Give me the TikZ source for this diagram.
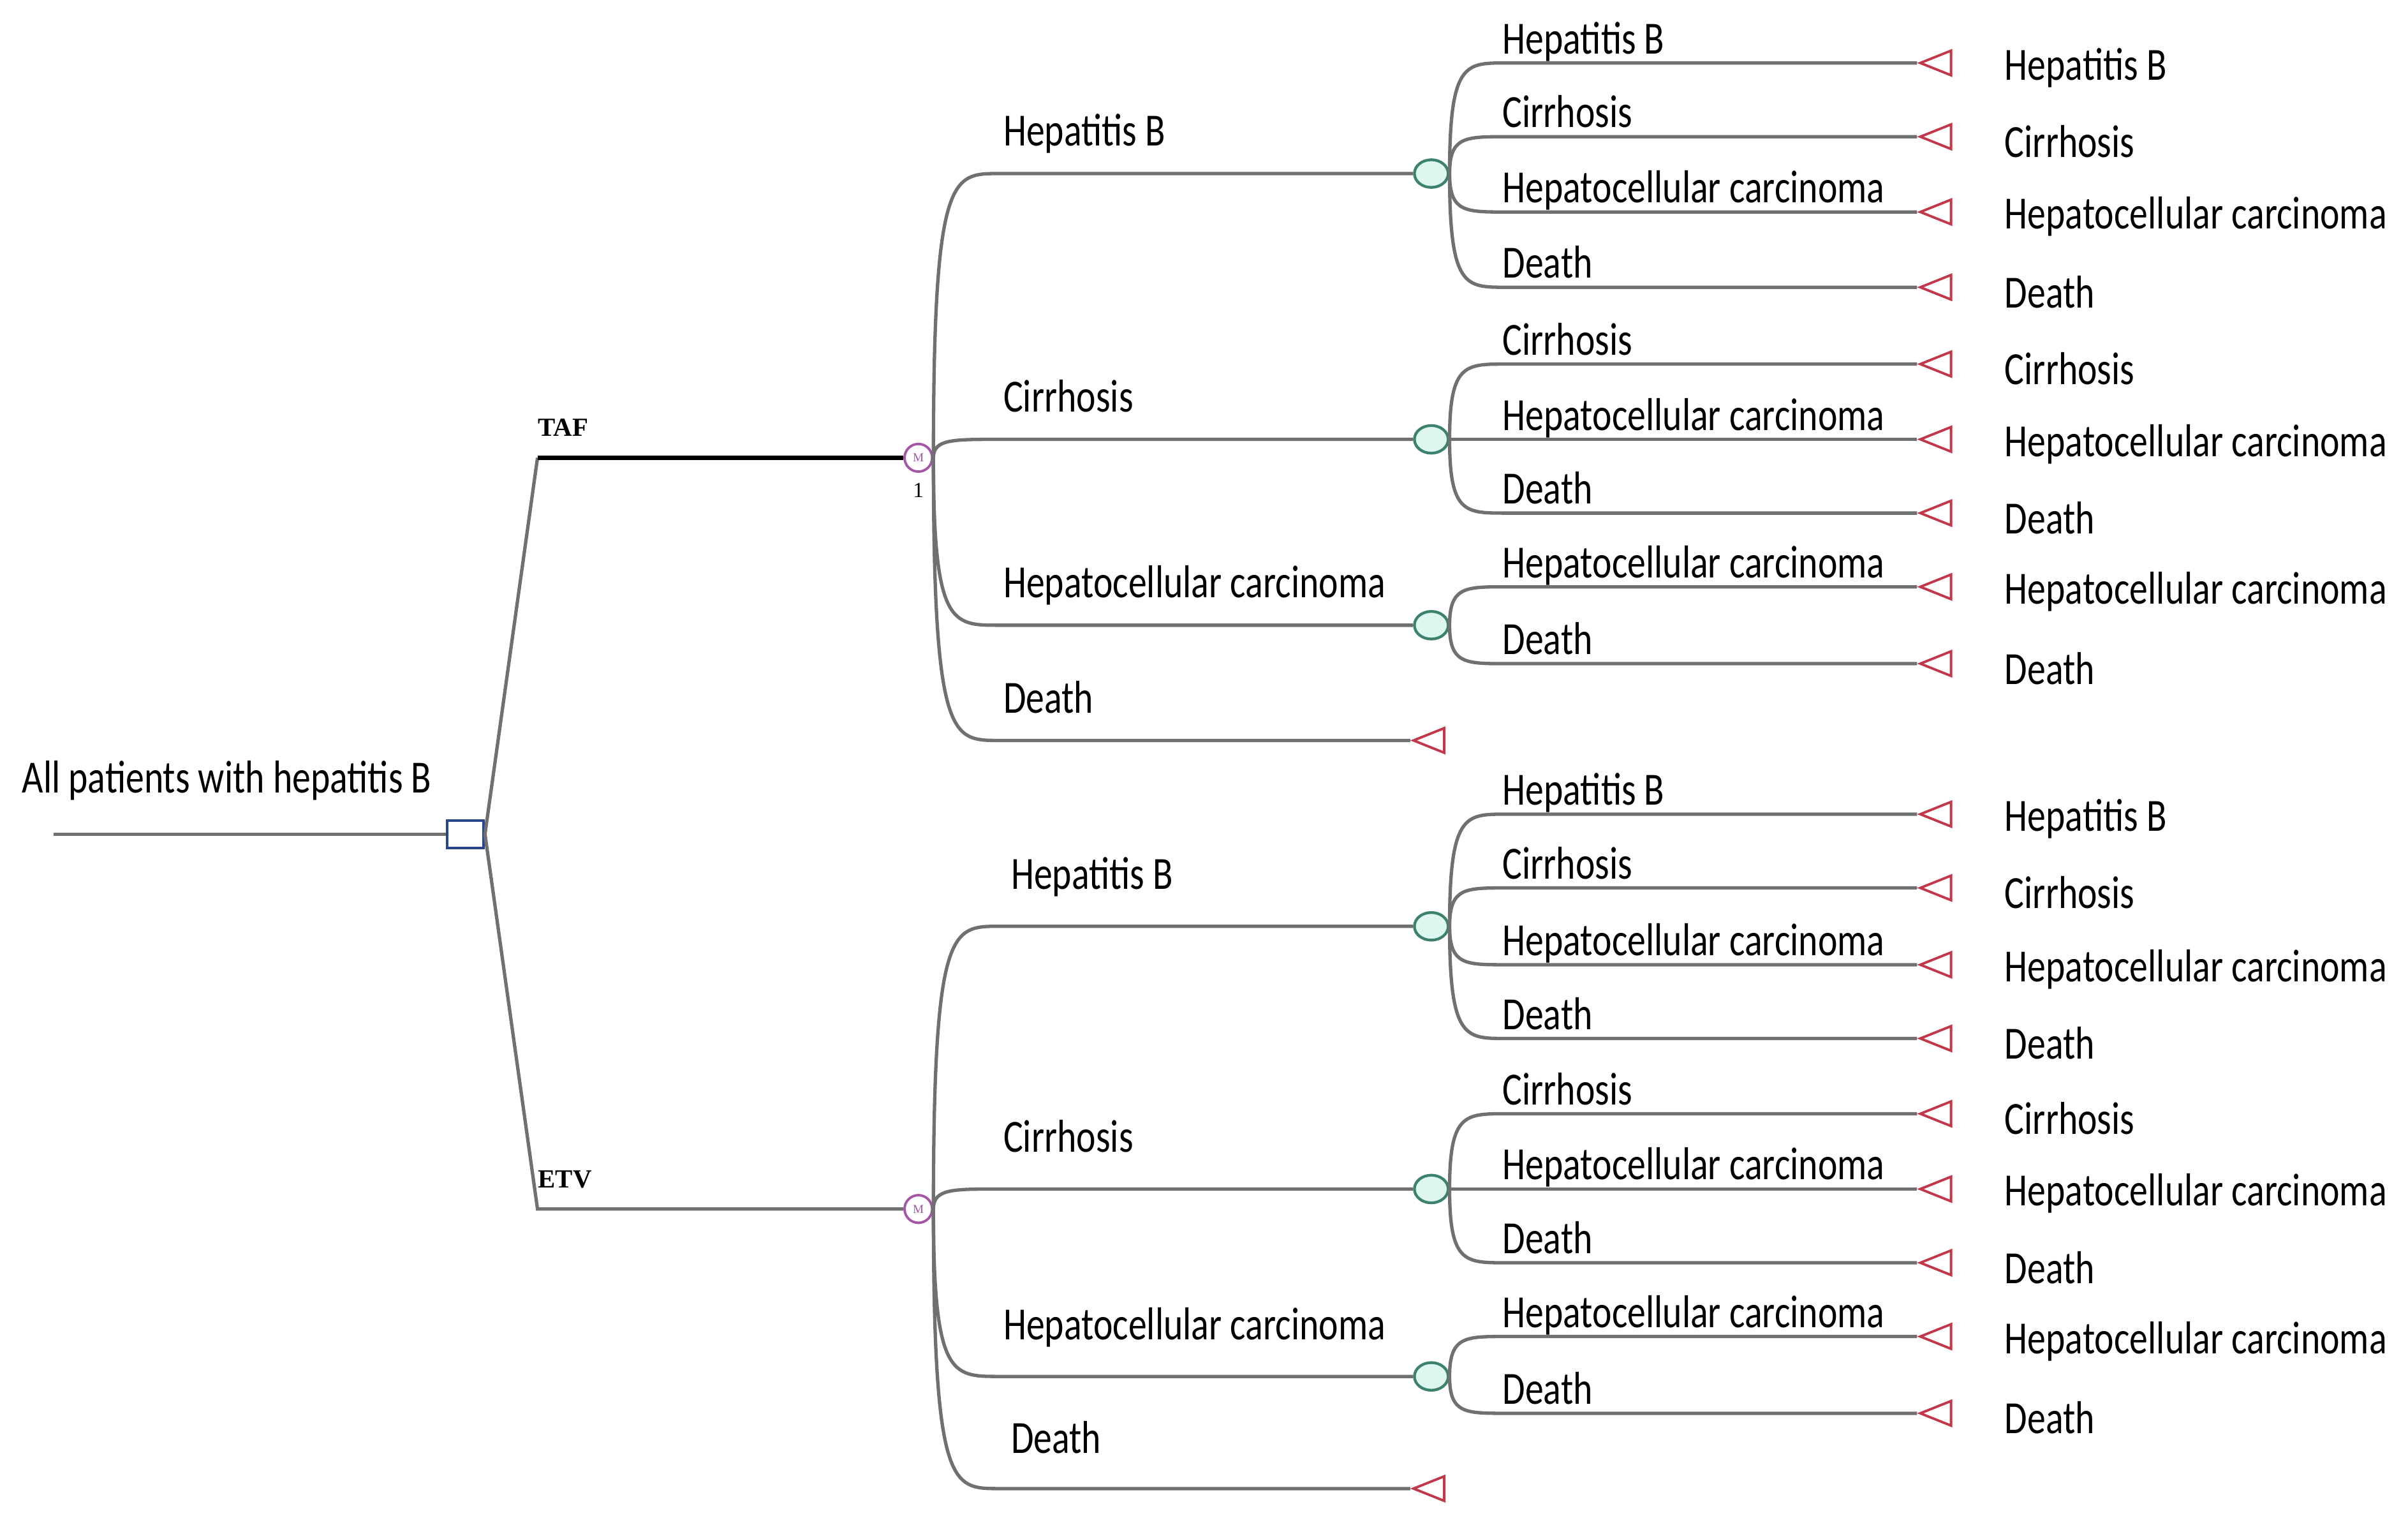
\documentclass[tikz,border=0pt]{standalone}
\usepackage{fontspec}
\setmainfont{Carlito}
\newfontfamily\armfont{Liberation Serif}
\usetikzlibrary{shapes.geometric}
\definecolor{linegray}{RGB}{112,112,112}
\definecolor{decblue}{RGB}{40,70,140}
\definecolor{markovpurple}{RGB}{165,85,165}
\definecolor{chanceteal}{RGB}{60,130,110}
\definecolor{chancefill}{RGB}{222,246,240}
\definecolor{termred}{RGB}{195,55,75}
\newcommand{\sq}[1]{\scalebox{0.8}[1]{#1}}

\begin{document}
\begin{tikzpicture}[
    x=0.5pt, y=-0.5pt,
    every node/.style={font=\fontsize{15}{15}\selectfont},
    branch/.style={draw=linegray, line width=1.1pt},
    decision/.style={rectangle, draw=decblue, fill=white, minimum width=12pt, minimum height=9pt, inner sep=0pt, line width=0.8pt},
    markov/.style={circle, draw=markovpurple, fill=white, minimum size=9pt, inner sep=0pt, line width=0.8pt, text=markovpurple, font=\armfont\fontsize{4}{4}\selectfont},
    chance/.style={ellipse, draw=chanceteal, fill=chancefill, minimum width=11pt, minimum height=9pt, inner sep=0pt, line width=0.9pt},
    terminal/.style={isosceles triangle, shape border rotate=180, isosceles triangle stretches, draw=termred, fill=white, minimum height=10pt, minimum width=8pt, inner sep=0pt, line width=0.8pt},
    state/.style={anchor=base west, inner sep=0pt},
    outcome/.style={anchor=west, inner sep=0pt},
    arm/.style={anchor=base west, inner sep=0pt, font=\armfont\bfseries\fontsize{8.5}{8.5}\selectfont}
]
\useasboundingbox (0,0) rectangle (1568,988);

% decision node and arms
\coordinate (start) at (35,543);
\node[decision] (dec) at (303,543) {};
\node[anchor=base west, inner sep=0pt] at (14,516) {\sq{All patients with hepatitis B}};
\draw[branch] (start) -- (dec.west);
\coordinate (tafc) at (350,298);
\coordinate (etvc) at (350,787);
\node[markov] (mtaf) at (598,298) {M};
\node[markov] (metv) at (598,787) {M};
\draw[branch] (dec.east) -- (tafc);
\draw[black, line width=1.5pt] (tafc) -- (mtaf.west);
\draw[branch] (dec.east) -- (etvc) -- (metv.west);
\node[arm] at (350,284) {TAF};
\node[arm] at (350,773) {ETV};
\node[font=\armfont\fontsize{7}{7}\selectfont, inner sep=0pt] at (598,319) {1};

% Markov states, TAF arm
\foreach \i/\y/\t in {1/113/Hepatitis B, 2/286/Cirrhosis, 3/407/Hepatocellular carcinoma}{
  \coordinate (ts\i) at (650,\y);
  \node[chance] (tc\i) at (932,\y) {};
  \draw[branch] (mtaf.east) .. controls (mtaf.east |- ts\i) and ([xshift=6pt]mtaf.east |- ts\i) .. (ts\i) -- (tc\i.west);
  \node[state] at (653,\y-18) {\sq{\t}};
}
\coordinate (ts4) at (650,482);
\node[terminal] (tt4) at (935,482) {};
\draw[branch] (mtaf.east) .. controls (mtaf.east |- ts4) and ([xshift=6pt]mtaf.east |- ts4) .. (ts4) -- (tt4.apex);
\node[state] at (653,464) {\sq{Death}};

% Markov states, ETV arm
\foreach \i/\y/\x/\t in {1/603/658/Hepatitis B, 2/774/653/Cirrhosis, 3/896/653/Hepatocellular carcinoma}{
  \coordinate (es\i) at (650,\y);
  \node[chance] (ec\i) at (932,\y) {};
  \draw[branch] (metv.east) .. controls (metv.east |- es\i) and ([xshift=6pt]metv.east |- es\i) .. (es\i) -- (ec\i.west);
  \node[state] at (\x,\y-24) {\sq{\t}};
}
\coordinate (es4) at (650,969);
\node[terminal] (et4) at (935,969) {};
\draw[branch] (metv.east) .. controls (metv.east |- es4) and ([xshift=6pt]metv.east |- es4) .. (es4) -- (et4.apex);
\node[state] at (658,946) {\sq{Death}};

% transitions from each chance node
\foreach \c/\k/\y/\t in {
  tc1/a/41/Hepatitis B, tc1/b/89/Cirrhosis, tc1/c/138/Hepatocellular carcinoma, tc1/d/187/Death,
  tc2/a/237/Cirrhosis, tc2/b/286/Hepatocellular carcinoma, tc2/c/334/Death,
  tc3/a/382/Hepatocellular carcinoma, tc3/b/432/Death,
  ec1/a/530/Hepatitis B, ec1/b/578/Cirrhosis, ec1/c/628/Hepatocellular carcinoma, ec1/d/676/Death,
  ec2/a/725/Cirrhosis, ec2/b/774/Hepatocellular carcinoma, ec2/c/822/Death,
  ec3/a/870/Hepatocellular carcinoma, ec3/b/920/Death}{
  \coordinate (\c\k s) at (980,\y);
  \node[terminal] (\c\k t) at (1265,\y) {};
  \draw[branch] (\c.east) .. controls (\c.east |- \c\k s) and ([xshift=5pt]\c.east |- \c\k s) .. (\c\k s) -- (\c\k t.apex);
  \node[state] at (978,\y-6) {\sq{\t}};
  \node[outcome] at (1305,\y+3) {\sq{\t}};
}
\end{tikzpicture}
\end{document}
